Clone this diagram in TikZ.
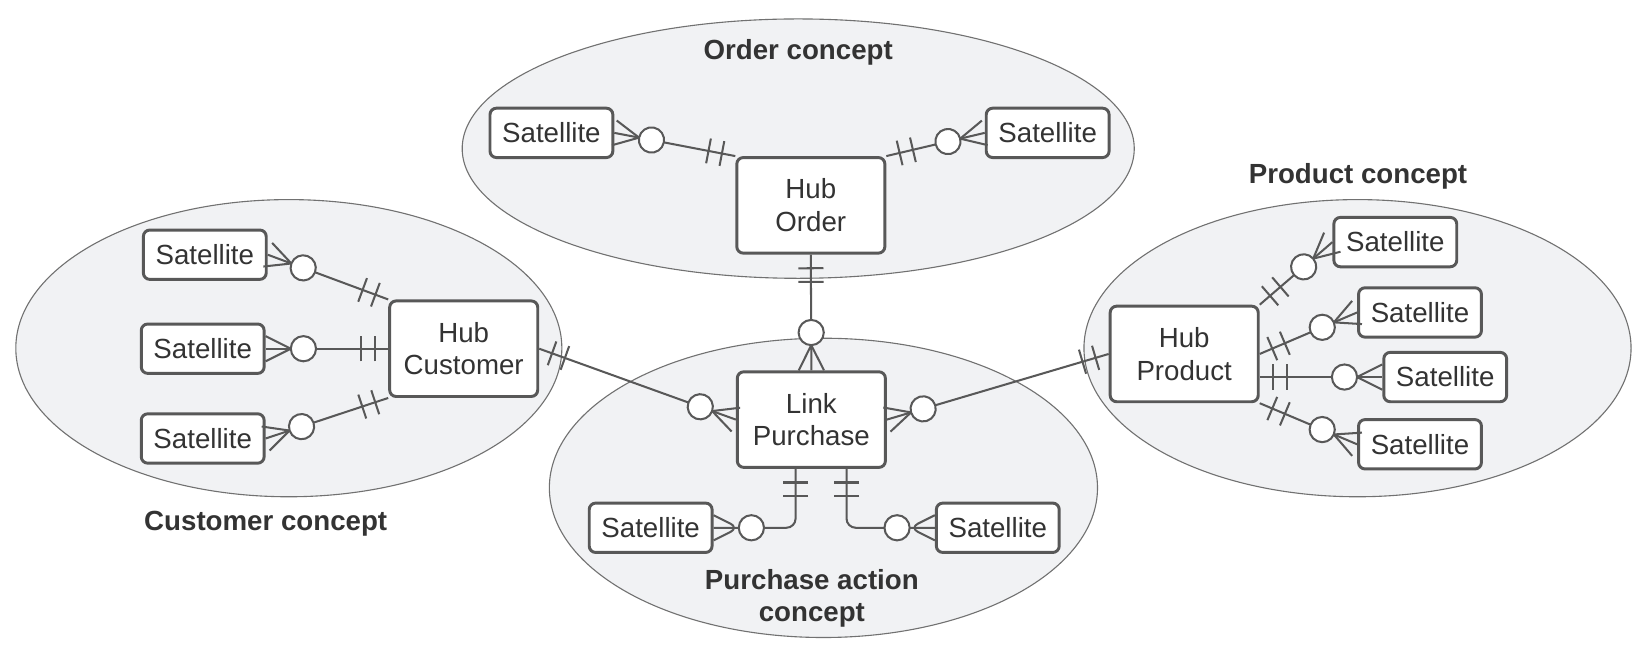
\documentclass[tikz,border=0pt]{standalone}
\usepackage{tikz}
\usepackage{xcolor}
\usepackage{fontspec}
\setmainfont{Liberation Sans}
\usetikzlibrary{shapes,calc,decorations.markings}
\definecolor{conceptcolor}{RGB}{241,242,244}
\definecolor{edgecolor}{RGB}{88,88,88}
\definecolor{labelcolor}{RGB}{51,51,51}

\begin{document}
\begin{tikzpicture}[
    x=0.02cm, y=-0.02cm,
    font=\fontsize{15}{17.6}\selectfont,
    text=labelcolor,
    concept/.style={draw=edgecolor!85, line width=0.6pt, fill=conceptcolor},
    sat/.style={rectangle, draw=edgecolor, line width=1.6pt, rounded corners=3.5pt, fill=white, align=center, minimum width=2.34cm, minimum height=0.94cm, inner sep=0pt},
    hub/.style={sat, minimum width=2.82cm, minimum height=1.82cm},
    title/.style={font=\fontsize{15}{17.6}\selectfont\bfseries, align=center},
    conn/.style={draw=edgecolor, line width=1.1pt},
    one start/.style={postaction={decorate, decoration={markings, mark=at position 0 with {
        \draw[edgecolor, line width=1.1pt] (13,-12) -- (13,12) (26,-12) -- (26,12);}}}},
    many end/.style={postaction={decorate, decoration={markings, mark=at position 1 with {
        \draw[edgecolor, line width=1.1pt, line join=round] (0,-12) -- (-24,0) -- (0,12);
        \draw[edgecolor, line width=1.1pt, fill=white] (-36,0) circle (0.24cm);}}}}
]
\useasboundingbox (0,0) rectangle (1571,626);

% Concept areas
\path[concept] (760,141.5) ellipse (6.4cm and 2.47cm);
\path[concept] (275,331.5) ellipse (5.2cm and 2.83cm);
\path[concept] (784,464.5) ellipse (5.22cm and 2.85cm);
\path[concept] (1292.5,331.5) ellipse (5.21cm and 2.83cm);

% Order concept
\node[hub] (hub_order) at (772,195.5) {Hub\\Order};
\node[sat] (order_sat_l) at (525,126.5) {Satellite};
\node[sat] (order_sat_r) at (997.5,126.5) {Satellite};

% Customer concept
\node[hub] (hub_customer) at (441.5,332) {Hub\\Customer};
\node[sat] (cust_sat_a) at (195,242.5) {Satellite};
\node[sat] (cust_sat_b) at (193,332) {Satellite};
\node[sat] (cust_sat_c) at (193,417.5) {Satellite};

% Purchase action concept
\node[hub] (link_purchase) at (772.5,399.5) {Link\\Purchase};
\node[sat] (purch_sat_l) at (619.5,502.5) {Satellite};
\node[sat] (purch_sat_r) at (950,502.5) {Satellite};

% Product concept
\node[hub] (hub_product) at (1127.5,337) {Hub\\Product};
\node[sat] (prod_sat_a) at (1328.5,230.5) {Satellite};
\node[sat] (prod_sat_b) at (1352,297.5) {Satellite};
\node[sat] (prod_sat_c) at (1376,359) {Satellite};
\node[sat] (prod_sat_d) at (1352,423) {Satellite};

% Concept labels
\node[title] (order_title) at (760,50) {Order concept};
\node[title] (product_title) at (1293,168) {Product concept};
\node[title] (customer_title) at (253,499) {Customer concept};
\node[title] (purchase_title) at (773,569.5) {Purchase action\\concept};

% Hub to satellite connectors
\draw[conn, one start, many end] (hub_order.north west) -- (order_sat_l.east);
\draw[conn, one start, many end] (hub_order.north east) -- (order_sat_r.west);
\draw[conn, one start, many end] (hub_customer.north west) -- (cust_sat_a.east);
\draw[conn, one start, many end] (hub_customer.west) -- (cust_sat_b.east);
\draw[conn, one start, many end] (hub_customer.south west) -- (cust_sat_c.east);
\draw[conn, one start, many end] (hub_product.north east) -- (prod_sat_a.west);
\draw[conn, one start, many end] (hub_product.east) -- (prod_sat_b.west);
\draw[conn, one start, many end] (hub_product.east |- prod_sat_c.west) -- (prod_sat_c.west);
\draw[conn, one start, many end] (hub_product.south east) -- (prod_sat_d.west);
\draw[conn, one start, many end, rounded corners=5pt] ([xshift=-0.3cm]link_purchase.south) |- (purch_sat_l.east);
\draw[conn, one start, many end, rounded corners=5pt] ([xshift=0.67cm]link_purchase.south) |- (purch_sat_r.west);

% Hub to link connectors
\draw[conn, one start, many end] (hub_order.south) -- (link_purchase.north);
\draw[conn, one start, many end] (hub_customer.east) -- (link_purchase.west);
\draw[conn, one start, many end] (hub_product.west) -- (link_purchase.east);

\end{tikzpicture}
\end{document}
